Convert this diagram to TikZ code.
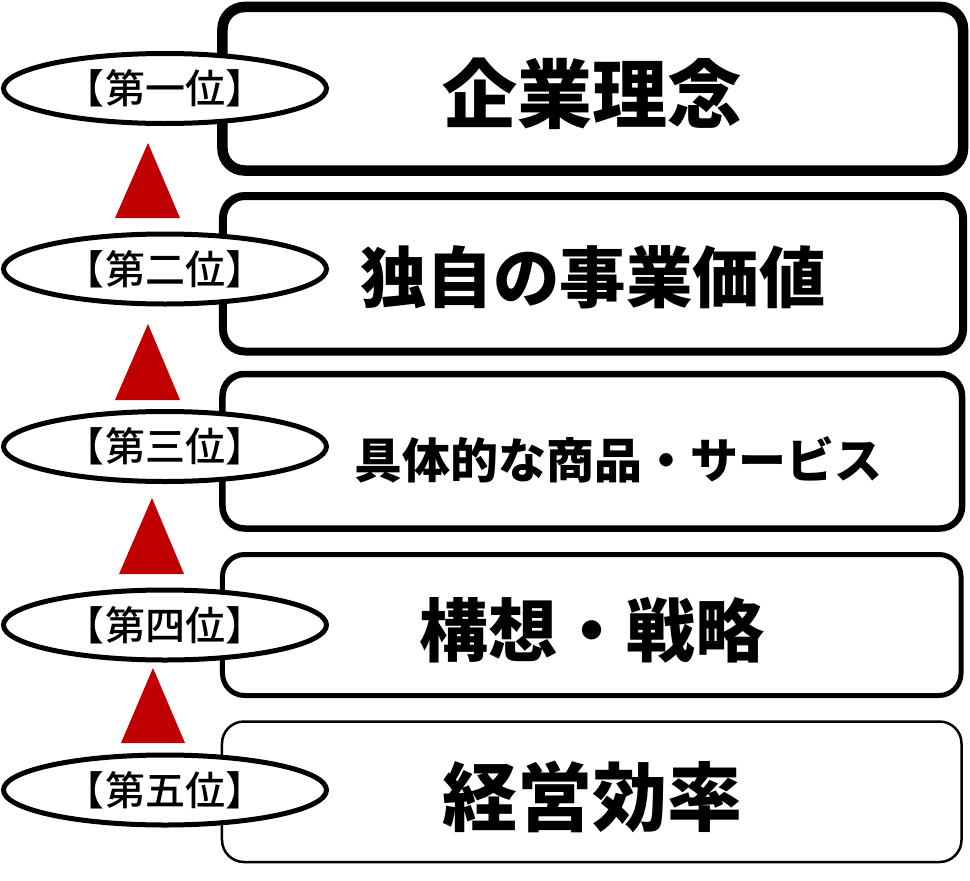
\documentclass[tikz,border=0pt]{standalone}
\usepackage{fontspec}
\usetikzlibrary{shapes.geometric}
\newfontfamily\heavyjp{Noto Sans CJK JP Black}
\newfontfamily\labeljp{Noto Sans CJK JP Medium}
\definecolor{tri}{HTML}{C00000}
\tikzset{
  box/.style={draw=black, fill=white, rounded corners=22bp, inner sep=0pt},
  rank/.style={draw=black, fill=white, ellipse, line width=5bp, inner sep=0pt,
     minimum width=323bp, minimum height=70bp, font=\labeljp\fontsize{40bp}{40bp}\selectfont},
  boxtext/.style={inner sep=0pt, font=\heavyjp},
  uptri/.style={fill=tri, draw=none}
}
\begin{document}
\begin{tikzpicture}[x=1bp, y=-1bp]
\useasboundingbox (0,0) rectangle (970,881);
% boxes
\node[box, line width=10.5bp, minimum width=740.5bp, minimum height=163.5bp] (b1) at (592.75,88.75) {};
\node[box, line width=8bp, minimum width=740bp, minimum height=155.5bp] (b2) at (593,273.75) {};
\node[box, line width=6.5bp, minimum width=739.5bp, minimum height=154.5bp] (b3) at (592.25,451.25) {};
\node[box, line width=5bp, minimum width=738.5bp, minimum height=141bp] (b4) at (591.75,625) {};
\node[box, line width=2.5bp, minimum width=739.5bp, minimum height=140.5bp] (b5) at (591.75,791.75) {};
% box texts
\node[boxtext, font=\heavyjp\fontsize{75bp}{75bp}\selectfont] (t1) at (592,94) {企業理念};
\node[boxtext, font=\heavyjp\fontsize{66.5bp}{66.5bp}\selectfont] (t2) at (593,277) {独自の事業価値};
\node[boxtext, font=\heavyjp\fontsize{48bp}{48bp}\selectfont] (t3) at (618,460) {具体的な商品・サービス};
\node[boxtext, font=\heavyjp\fontsize{69bp}{69bp}\selectfont] (t4) at (592,630) {構想・戦略};
\node[boxtext, font=\heavyjp\fontsize{75bp}{75bp}\selectfont] (t5) at (592,797) {経営効率};
% rank ellipses
\node[rank] (r1) at (165,88.5) {【第一位】};
\node[rank] (r2) at (165,269) {【第二位】};
\node[rank] (r3) at (165,446.5) {【第三位】};
\node[rank] (r4) at (165,625) {【第四位】};
\node[rank] (r5) at (165,790) {【第五位】};
% triangles
\fill[uptri] (148,143) -- (180,218) -- (115,218) -- cycle;
\fill[uptri] (148,324) -- (180,400) -- (115,400) -- cycle;
\fill[uptri] (152,498) -- (184,574) -- (119,574) -- cycle;
\fill[uptri] (153,668) -- (185,743) -- (121,743) -- cycle;
\end{tikzpicture}
\end{document}
